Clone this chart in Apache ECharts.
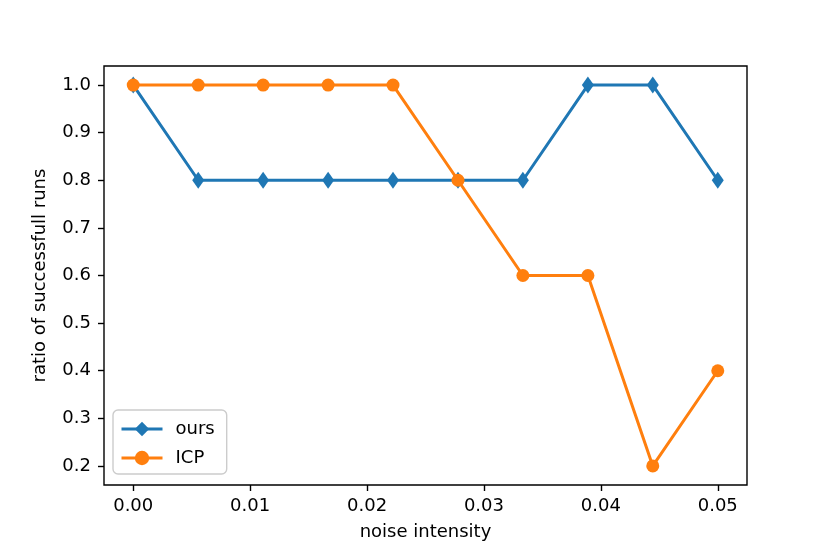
<!DOCTYPE html>
<html>
<head>
<meta charset="utf-8">
<script src="https://cdn.jsdelivr.net/npm/echarts@6/dist/echarts.min.js"></script>
<style>
html,body{margin:0;padding:0;background:#fff;}
#c{width:830px;height:554px;}
</style>
</head>
<body>
<div id="c"></div>
<script>
const noiseX = [0, 0.00556, 0.01111, 0.01667, 0.02222, 0.02778, 0.03333, 0.03889, 0.04444, 0.05];
const oursY = [1.0, 0.8, 0.8, 0.8, 0.8, 0.8, 0.8, 1.0, 1.0, 0.8];
const icpY = [1.0, 1.0, 1.0, 1.0, 1.0, 0.8, 0.6, 0.6, 0.2, 0.4];
const xTicks = [0, 0.01, 0.02, 0.03, 0.04, 0.05];
const yTicks = [0.2, 0.3, 0.4, 0.5, 0.6, 0.7, 0.8, 0.9, 1.0];

const font = 'DejaVu Sans';
const chart = echarts.init(document.getElementById('c'), null, {renderer: 'canvas'});
const pair = (xs, ys) => xs.map((x, i) => [x, ys[i]]);

chart.setOption({
  animation: false,
  backgroundColor: '#fff',
  grid: {left: 104, top: 66, width: 643, height: 419, show: true,
         borderColor: '#000', borderWidth: 1.4, backgroundColor: 'transparent'},
  xAxis: {
    type: 'value', min: -0.0025, max: 0.0525,
    name: 'noise intensity', nameLocation: 'middle', nameGap: 38,
    nameTextStyle: {fontFamily: font, fontSize: 18, color: '#000'},
    axisLine: {show: false, onZero: false},
    splitLine: {show: false},
    axisTick: {show: true, length: 6, inside: false, customValues: xTicks,
               lineStyle: {color: '#000', width: 1.4}},
    axisLabel: {customValues: xTicks, margin: 12, fontFamily: font, fontSize: 18, color: '#000',
                formatter: v => v.toFixed(2)}
  },
  yAxis: {
    type: 'value', min: 0.16, max: 1.04,
    name: 'ratio of successfull runs', nameLocation: 'middle', nameGap: 55, nameRotate: 90,
    nameTextStyle: {fontFamily: font, fontSize: 18, color: '#000'},
    axisLine: {show: false, onZero: false},
    splitLine: {show: false},
    axisTick: {show: true, length: 6, inside: false, customValues: yTicks,
               lineStyle: {color: '#000', width: 1.4}},
    axisLabel: {customValues: yTicks, margin: 13, fontFamily: font, fontSize: 18, color: '#000',
                formatter: v => v.toFixed(1)}
  },
  legend: {
    orient: 'vertical', left: 113, bottom: 80,
    backgroundColor: 'rgba(255,255,255,0.8)', borderColor: '#cccccc', borderWidth: 1.4,
    borderRadius: 5, padding: [10, 12, 7, 7], itemGap: 11,
    itemWidth: 41, itemHeight: 18,
    lineStyle: {width: 3},
    textStyle: {fontFamily: font, fontSize: 18, color: '#000', padding: [0, 0, 0, 8]},
    data: ['ours', 'ICP']
  },
  series: [
    {name: 'ours', type: 'line', data: pair(noiseX, oursY),
     symbol: 'diamond', symbolSize: [12, 17],
     lineStyle: {color: '#1f77b4', width: 3},
     itemStyle: {color: '#1f77b4'}},
    {name: 'ICP', type: 'line', data: pair(noiseX, icpY),
     symbol: 'circle', symbolSize: 13,
     lineStyle: {color: '#ff7f0e', width: 3},
     itemStyle: {color: '#ff7f0e'}}
  ]
});
</script>
</body>
</html>
